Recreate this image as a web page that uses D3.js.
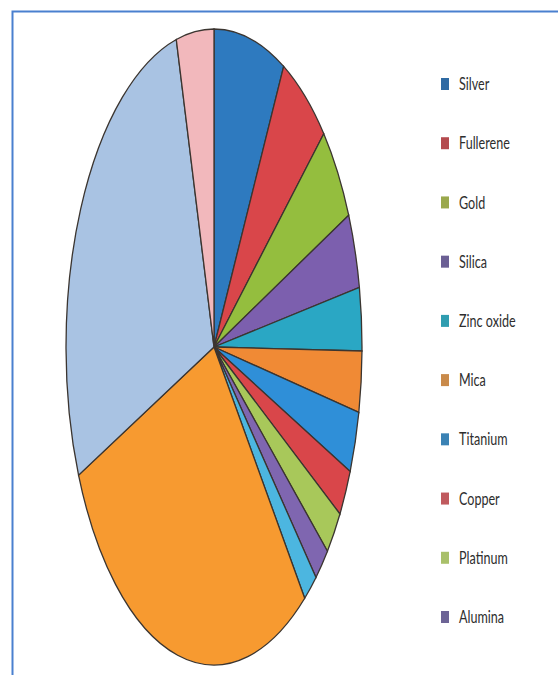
<!DOCTYPE html>
<html>
<head>
<meta charset="utf-8">
<script src="https://cdn.jsdelivr.net/npm/d3@7"></script>
<style>
  html, body { margin: 0; padding: 0; background: #ffffff; }
  svg { display: block; }
</style>
</head>
<body>
<div id="chart"></div>
<script>
// Data (percent shares)
const categories = ["Silver", "Fullerene", "Gold", "Silica", "Zinc oxide", "Mica", "Titanium", "Copper", "Platinum", "Alumina", "Series 11", "Series 12", "Series 13", "Series 14"];
const values = [7.8, 5.5, 4.9, 3.8, 3.2, 3.1, 3.1, 2.4, 2.3, 1.8, 1.6, 28.9, 27.5, 4.1];
const sliceColors = ["#2e7abf", "#d9464a", "#94be3e", "#7c5fae", "#2aa7c4", "#f08a35", "#2f8fd8", "#d9464a", "#a8c85a", "#7f66b0", "#4cb6e0", "#f79a30", "#a9c3e3", "#f2b8bc"];
const legendColors = ["#2f6aa3", "#b44a4e", "#9aa84c", "#6b5f94", "#2f9db0", "#c98a4a", "#3a82b4", "#c05a5e", "#a9c06a", "#6d6496"];
const legendCount = 10;

const W = 558, H = 675;
const svg = d3.select("#chart").append("svg").attr("width", W).attr("height", H);

// frame (top and left edges visible)
svg.append("rect")
  .attr("x", 12.5).attr("y", 11.5).attr("width", 620).attr("height", 720)
  .attr("fill", "none").attr("stroke", "#4a80cf").attr("stroke-width", 2);

const cx = 214, cy = 347, rx = 148, ry = 318, R = 100;
const pie = d3.pie().sort(null).value(d => d);
const arc = d3.arc().innerRadius(0).outerRadius(R);

const g = svg.append("g")
  .attr("transform", `translate(${cx},${cy}) scale(${rx / R},${ry / R})`);

g.selectAll("path")
  .data(pie(values))
  .join("path")
  .attr("d", arc)
  .attr("fill", (d, i) => sliceColors[i])
  .attr("stroke", "#3b3530")
  .attr("stroke-width", 1.3)
  .attr("vector-effect", "non-scaling-stroke");

// legend
const legendY = d3.scaleLinear().domain([0, legendCount - 1]).range([84, 617]);
const lg = svg.append("g");
const items = lg.selectAll("g.item")
  .data(categories.slice(0, legendCount))
  .join("g")
  .attr("class", "item")
  .attr("transform", (d, i) => `translate(441,${legendY(i)})`);

items.append("rect")
  .attr("x", 0).attr("y", -6).attr("width", 8).attr("height", 12)
  .attr("fill", (d, i) => legendColors[i]);

items.append("text")
  .attr("transform", "translate(18,0) scale(0.74,1)")
  .attr("dy", "0.36em")
  .attr("font-family", "Lato, 'Open Sans', sans-serif")
  .attr("font-size", 17)
  .attr("fill", "#2e2e2e")
  .text(d => d);
</script>
</body>
</html>
